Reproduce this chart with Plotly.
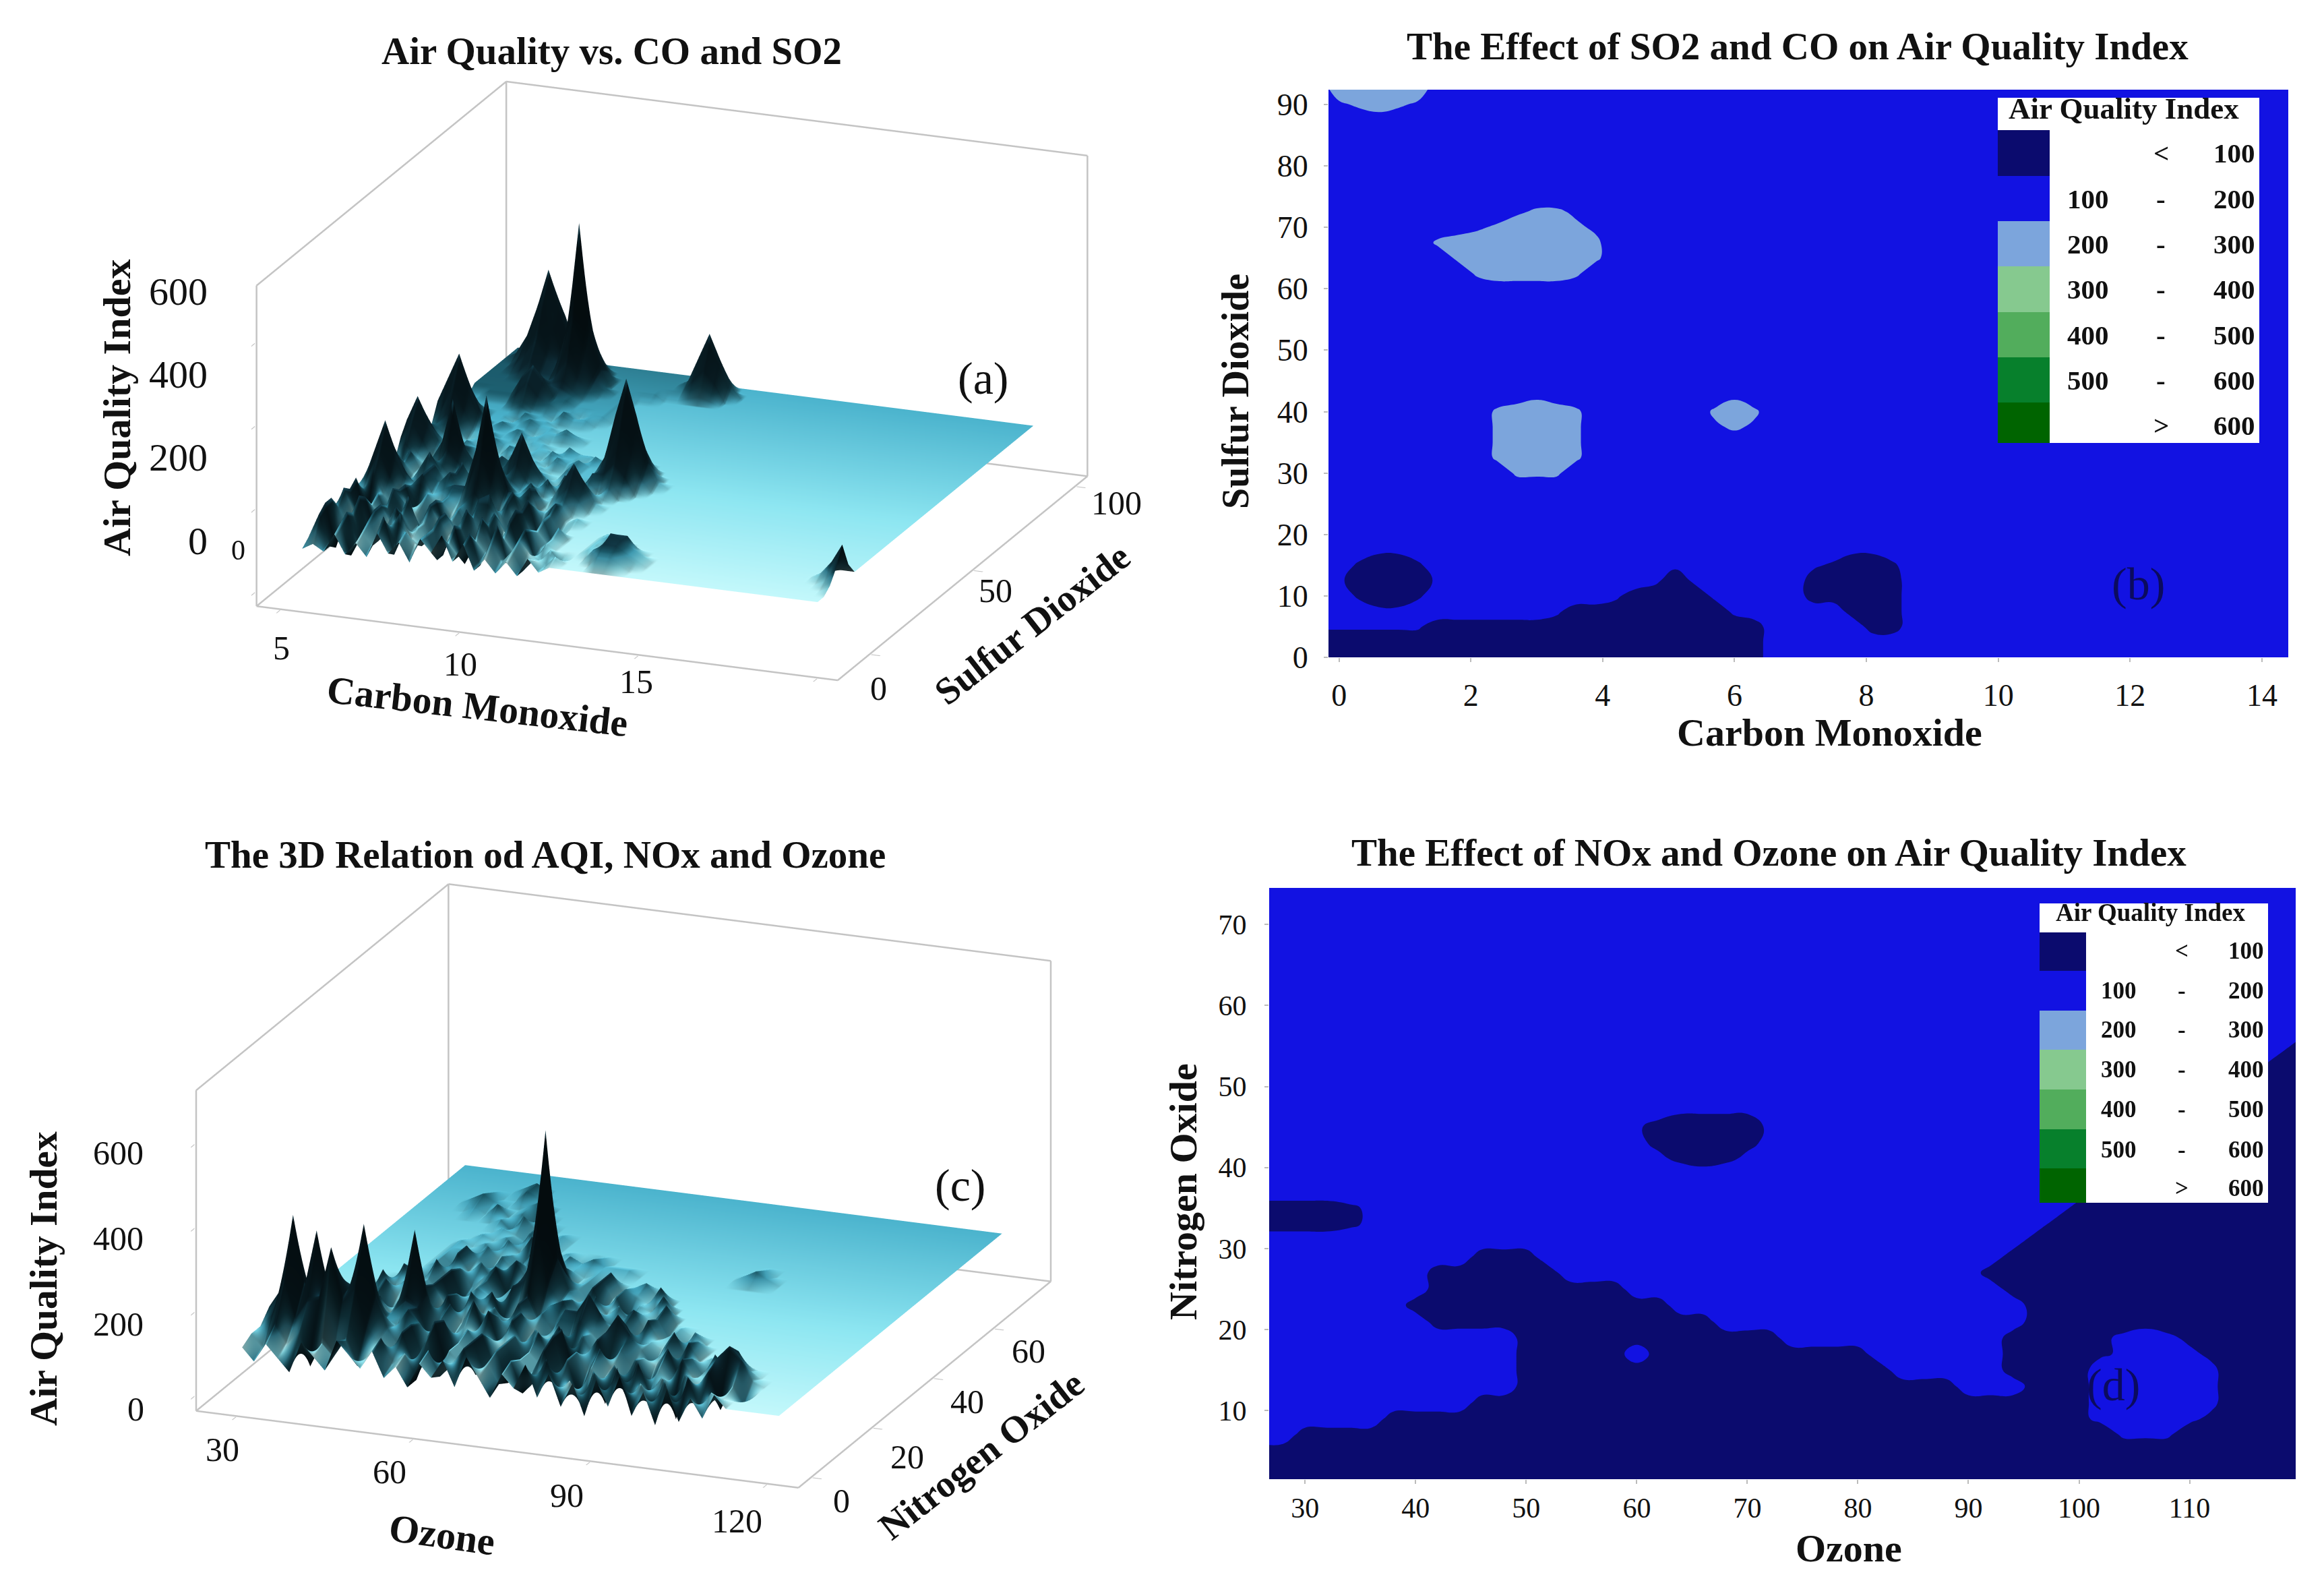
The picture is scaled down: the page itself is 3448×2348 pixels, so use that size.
import plotly.graph_objects as go

W, H = 3448, 2348
SERIF = "Liberation Serif"

# ---------- data: panel (a) AQI surface over CO / SO2 (base-36 char = AQI / 15) ----------
A_X = [4.7 + 0.3 * i for i in range(34)] + [15.5, 16.5, 17.5, 18.2, 18.5, 18.8, 19.1]
A_Y = [3 * j for j in range(36)]
A_ROWS = [
    "3436353746375847353536455555",
    "4837264937573648374635465557765555" + "5555555",
    "5928374695473826493754645578876555" + "5555556",
    "3947285936485739464836555669876555" + "5555568",
    "6749385746385947283746555658865555" + "555568b",
    "4958273948563748593647555677555555" + "5555567",
    "5836497528" + "3749a63847" + "355556",
    "49273856375" + "797" + "48593" + "745555",
    "66964837576" + "afa" + "69476856" + "55",
    "68c8" + "579678" + "8ene8" + "7956755",
    "6bgb8" + "697967" + "afa" + "7685" + "797",
    "68c8" + "4796868" + "797" + "685" + "69c96",
    "669" + "47a759659" + "7a7" + "685" + "797",
    "547576a8657" + "7aea7" + "586" + "75" + "7",
    "64857" + "aha" + "7686" + "7a7" + "65758" + "8a8",
    "58654" + "7a7" + "65877665766" + "7bgb7",
    "8b8" + "576857657665576" + "69gmg96",
    "aea7" + "657665766576766" + "7bgb7",
    "8b8" + "65766576657665766" + "8a8",
    "686" + "566576656657665665" + "7",
    "6797" + "567665665",
    "69d96" + "6667665",
    "9dhc86" + "76656676",
    "69d96" + "6667665",
    "6797" + "665766",
    "666666" + "7" + "665766",
    "66666" + "8a8" + "766566",
    "6677" + "7aca7" + "76666",
    "77777" + "8a8" + "8" + "76666",
    "7777777" + "9c9" + "7666",
    "77" + "78a88" + "cjc8" + "766",
    "77" + "8ada" + "9gwg96" + "6666",
    "77" + "9eie" + "9cjc8" + "6666666" + "8a8",
    "78bgmhc9c9" + "6666666" + "7bfb7",
    "77" + "9eie9" + "7" + "8" + "666666666" + "8a8",
    "77" + "8ada8" + "766" + "666666666" + "8",
]
A_PLANE = "5"
A_X_TICKS = [5, 10, 15, 20]
A_Y_TICKS = [0, 50, 100]
Z_TICKS = [0, 200, 400, 600]

# ---------- data: panel (c) AQI surface over Ozone / NOx ----------
C_X = [28 + 2 * i for i in range(43)] + [115, 119]
C_Y = [1.5 + 3 * j for j in range(24)] + [75]
C_ROWS = [
    "64753864975846375849637594837284937283748",
    "75968375846957384695748359462839473829476",
    "79f9cdldf9" + "7594837594" + "8375948275" + "8394728693" + "746",
    "9codmcfeod" + "8594a37594" + "8375a48596" + "4837596" + "7aca7",
    "78f9d899f8" + "7a85948576" + "8495a36948" + "576948596" + "a7",
    "7968796868" + "a948576a49" + "5869485" + "9c9" + "7485967",
    "687968596" + "aka" + "596a48596485" + "9" + "758" + "9" + "576958",
    "6785968478" + "a594a68596859" + "9c9" + "68596758",
    "6675859674" + "96857946" + "9" + "58967" + "8" + "5796857",
    "66665968759468759" + "aja" + "785968576966",
    "6666659675946857" + "8dxd8" + "695847696",
    "66666675968579468" + "9g9" + "7596" + "8" + "7696",
    "666666675968579675" + "9" + "67596786",
    "666666675975867586" + "7" + "676",
    "666666677586759768" + "787" + "776",
    "6666666767586976" + "7657" + "6" * 11 + "787",
    "6666666676758676" + "6" * 16 + "7",
    "66666666676586766",
    "66666666758676",
    "6666676867576",
    "6666787" + "66" + "78" + "66",
    "666667668766",
    "6666666786",
    "",
    "",
]
C_PLANE = "6"
C_X_TICKS = [30, 60, 90, 120]
C_Y_TICKS = [0, 20, 40, 60]

# ---------- data: panel (b) AQI table, CO (x) / SO2 (y) ----------
B_X = [-0.3 + 0.3 * i for i in range(51)]
B_Y = [2.5 * j for j in range(38)]
B_ROWS = [
    "1" * 23,
    "1" * 23,
    "mmmmmm" + "1" * 17 + "2" * 5 + "11",
    "222qq" + "2" * 7 + "q" + "1" * 8 + "q" + "2" * 5 + "111",
    "22" + "k11k" + "2" * 9 + "q" + "1111" + "q" + "2" * 4 + "11111",
    "2q" + "1111" + "q" + "2" * 10 + "q" + "1" + "q" + "2" * 5 + "11111",
    "22" + "k11k" + "2" * 12 + "q" + "2" * 6 + "q" + "k11k",
    "222qq" + "2" * 22 + "qq",
    "", "", "", "",
    "2" * 10 + "ppp",
    "2" * 9 + "pp3pp",
    "2" * 9 + "p333p",
    "2" * 9 + "p333p" + "2" * 6 + "npn",
    "2" * 9 + "pp3pp" + "2" * 6 + "p3p",
    "2" * 10 + "nnn" + "2" * 8 + "n",
    "", "", "", "", "", "", "",
    "2" * 8 + "p3333p",
    "2" * 7 + "p333333p",
    "2" * 6 + "p3333333p",
    "2" * 8 + "np333pn",
    "2" * 10 + "nppn",
    "", "", "", "", "", "",
    "2n" + "p3pn",
    "2" + "33333",
]
B_X_TICKS = [0, 2, 4, 6, 8, 10, 12, 14]
B_Y_TICKS = [0, 10, 20, 30, 40, 50, 60, 70, 80, 90]

# ---------- data: panel (d) AQI table, Ozone (x) / NOx (y) ----------
D_X = [26 + 2 * i for i in range(48)]
D_Y = [1 + 2 * j for j in range(38)]
D_ROWS = [
    "1" * 48,
    "1" * 48,
    "1" * 48,
    "22" + "1" * 37 + "mmm" + "1" * 6,
    "2" * 6 + "1" * 31 + "k" + "q222q" + "k" + "1" * 4,
    "2" * 10 + "1" * 28 + "22222q" + "1" * 4,
    "2" * 12 + "1" * 20 + "222" + "111" + "22222q" + "1" * 4,
    "2" * 12 + "1" * 17 + "2" * 5 + "1" * 4 + "22222q" + "1" * 4,
    "2" * 12 + "1" * 5 + "2" + "1" * 10 + "2" * 6 + "1" * 4 + "k" + "q22q" + "k" + "1" * 4,
    "2" * 12 + "1" * 12 + "2" * 10 + "1" * 4 + "k" + "q2q" + "k" + "1" * 5,
    "2" * 8 + "1" * 13 + "2" * 14 + "1" * 13,
    "2" * 7 + "1" * 12 + "2" * 16 + "1" * 13,
    "2" * 8 + "1" * 9 + "2" * 17 + "1" * 14,
    "2" * 8 + "1" * 6 + "2" * 19 + "1" * 15,
    "2" * 10 + "1" * 3 + "2" * 21 + "1" * 14,
    "2" * 35 + "1" * 13,
    "1" * 4 + "k" + "q" + "2" * 30 + "1" * 12,
    "1" * 4 + "k" + "q" + "2" * 31 + "1" * 11,
    "2" * 38 + "1" * 10,
    "2" * 39 + "1" * 9,
    "2" * 18 + "qk1kq" + "2" * 17 + "1" * 8,
    "2" * 17 + "q" + "k111k" + "q" + "2" * 17 + "1" * 7,
    "2" * 17 + "q" + "11111" + "q" + "2" * 18 + "1" * 6,
    "2" * 19 + "mmmm" + "2" * 20 + "1" * 5,
    "2" * 44 + "1111",
    "2" * 45 + "111",
    "2" * 46 + "11",
    "2" * 47 + "1",
    "", "", "", "", "", "", "", "", "", "",
]
D_X_TICKS = [30, 40, 50, 60, 70, 80, 90, 100, 110]
D_Y_TICKS = [10, 20, 30, 40, 50, 60, 70]

LEGEND_FROM = ["", "100", "200", "300", "400", "500", ""]
LEGEND_SIGN = ["<", "-", "-", "-", "-", "-", ">"]
LEGEND_TO = ["100", "200", "300", "400", "500", "600", "600"]
BAND_COLORS = ["#0b0b6e", "#1212e2", "#7ca5dc", "#86c98f", "#52ad5c", "#07802c", "#006400"]

# plane shading by y (first part of the scale), spikes run into the dark end
CYAN_SCALE = [[0, "#c6fcff"], [0.27, "#8fe9f5"], [0.6, "#4cb6d0"], [0.8, "#1f6678"], [1, "#123a48"]]
EDGE_GREY = "#c4c4c4"
ALPHA = "0123456789abcdefghijklmnopqrstuvwxyz"


def surf_table(rows, n, pad):
    return [[ALPHA.index(c) * 15 for c in r.ljust(n, pad)[:n]] for r in rows]


def shade_table(z, yv, plane):
    base = ALPHA.index(plane) * 15
    out = []
    for row, y in zip(z, yv):
        flat = 0.6 * (y - yv[0]) / (yv[-1] - yv[0])
        out.append([flat + (1 - flat) * min(1, abs(v - base) / 45) for v in row])
    return out


def class_table(rows, n):
    code = {"1": 60, "k": 85, "m": 110, "q": 115, "2": 150, "n": 185, "p": 215, "3": 250}
    return [[code[c] for c in r.ljust(n, "2")[:n]] for r in rows]


def fx(p):
    return p / W


def fy(p):
    return 1 - p / H


fig = go.Figure()
ann = []
shp = []


def text(x, y, s, size, bold=False, angle=0, color="#111111"):
    ann.append(dict(xref="paper", yref="paper", x=fx(x), y=fy(y), text=f"<b>{s}</b>" if bold else s,
                    showarrow=False, textangle=angle, xanchor="center", yanchor="middle",
                    font=dict(family=SERIF, size=size, color=color)))


def box_edges(xr, yr, zr):
    def inset(r):
        m = (r[1] - r[0]) * 0.002
        return r[0] + m, r[1] - m
    a, b = inset(xr)
    c, d = inset(yr)
    e, f = inset(zr)
    segs = [((a, d, e), (a, d, f)), ((b, d, e), (b, d, f)), ((a, d, f), (b, d, f)), ((a, d, e), (b, d, e)),
            ((a, c, f), (a, d, f)), ((a, c, e), (a, c, f)), ((a, c, e), (a, d, e)),
            ((a, c, e), (b, c, e)), ((b, c, e), (b, d, e))]
    xs, ys, zs = [], [], []
    for p, q in segs:
        xs += [p[0], q[0], None]
        ys += [p[1], q[1], None]
        zs += [p[2], q[2], None]
    return xs, ys, zs


def add_surface(name, xv, yv, rows, pad, xr, yr, zr, xt, yt):
    z = surf_table(rows, len(xv), pad)
    fig.add_trace(go.Surface(x=xv, y=yv, z=z, surfacecolor=shade_table(z, yv, pad), colorscale=CYAN_SCALE,
                             showscale=False, cmin=0, cmax=1, scene=name, hoverinfo="skip",
                             lighting=dict(ambient=0.2, diffuse=0.8, specular=0.05, roughness=0.9, fresnel=0.0),
                             lightposition=dict(x=10, y=10000, z=0)))
    ex, ey, ez = box_edges(xr, yr, zr)
    fig.add_trace(go.Scatter3d(x=ex, y=ey, z=ez, mode="lines", scene=name, hoverinfo="skip", showlegend=False,
                               line=dict(color=EDGE_GREY, width=5)))


def scene_cfg(cx, cy, xr, yr, zr, xt, yt, asp, eye):
    hw, hh = 680, 520
    ax = dict(showgrid=False, zeroline=False, showbackground=False, showspikes=False, showline=False,
              showticklabels=False, ticks="outside", ticklen=14, tickcolor=EDGE_GREY, tickwidth=3, title="")
    return dict(domain=dict(x=[fx(cx - hw), fx(cx + hw)], y=[fy(cy + hh), fy(cy - hh)]),
                xaxis=dict(ax, range=xr, tickvals=xt),
                yaxis=dict(ax, range=yr, tickvals=yt),
                zaxis=dict(ax, range=zr, tickvals=Z_TICKS),
                aspectmode="manual", aspectratio=dict(x=asp[0], y=asp[1], z=asp[2]),
                camera=dict(projection=dict(type="orthographic"), eye=dict(x=eye[0], y=eye[1], z=eye[2]),
                            center=dict(x=0, y=0, z=0), up=dict(x=0, y=0, z=1)))


A_R = ([4.3, 20.6], [-16, 106], [-35, 740])
C_R = ([23, 125.5], [-4.5, 79], [-37, 730])
add_surface("scene", A_X, A_Y, A_ROWS, A_PLANE, *A_R, A_X_TICKS, A_Y_TICKS)
add_surface("scene2", C_X, C_Y, C_ROWS, C_PLANE, *C_R, C_X_TICKS, C_Y_TICKS)

SCALE = 2.0
scene_a = scene_cfg(997, 565, *A_R, A_X_TICKS, A_Y_TICKS, (1.79, 1.947, 0.97),
                    (0.348 * SCALE, -0.881 * SCALE, 0.323 * SCALE))
scene_c = scene_cfg(925, 1759, *C_R, C_X_TICKS, C_Y_TICKS, (1.855, 1.968, 0.97),
                    (0.348 * SCALE, -0.881 * SCALE, 0.323 * SCALE))

STEPS = []
for k, col in enumerate(BAND_COLORS):
    STEPS += [[k / 7, col], [(k + 1) / 7, col]]


def add_contour(xv, yv, rows, xa, ya):
    fig.add_trace(go.Contour(x=xv, y=yv, z=class_table(rows, len(xv)), xaxis=xa, yaxis=ya, zmin=0, zmax=700,
                             colorscale=STEPS, showscale=False, hoverinfo="skip",
                             contours=dict(start=0, end=700, size=100, coloring="fill", showlines=False),
                             line=dict(width=0, smoothing=1.3)))


add_contour(B_X, B_Y, B_ROWS, "x", "y")
add_contour(D_X, D_Y, D_ROWS, "x2", "y2")


def ax2d(dom, rng, ticks, size, standoff):
    return dict(domain=dom, range=rng, tickvals=ticks, ticktext=[str(t) for t in ticks], ticks="outside", ticklen=6,
                tickcolor="#bbbbbb", tickwidth=2, showgrid=False, zeroline=False, showline=False, automargin=False,
                tickfont=dict(family=SERIF, size=size, color="#111111"), ticklabelstandoff=standoff)


def legend(x0, x1, sw, top, ys, rows, title_x, title_y, cols, fs, title_fs):
    shp.append(dict(type="rect", xref="paper", yref="paper", x0=fx(x0), x1=fx(x1), y0=fy(ys[-1]), y1=fy(top),
                    fillcolor="white", line=dict(width=0), layer="above"))
    for k, col in enumerate(BAND_COLORS):
        shp.append(dict(type="rect", xref="paper", yref="paper", x0=fx(x0), x1=fx(sw), y0=fy(ys[k + 1]), y1=fy(ys[k]),
                        fillcolor=col, line=dict(width=0), layer="above"))
        text(cols[0], rows[k], LEGEND_FROM[k], fs, True)
        text(cols[1], rows[k], LEGEND_SIGN[k], fs, True)
        text(cols[2], rows[k], LEGEND_TO[k], fs, True)
    text(title_x, title_y, "Air Quality Index", title_fs, True)


legend(2964, 3352, 3041, 145, [193, 261, 328, 395, 463, 530, 597, 657], [227, 295, 362, 429, 497, 564, 631],
       3151, 161, [3098, 3206, 3315], 41, 45)
legend(3026, 3365, 3095, 1340, [1383, 1440, 1499, 1557, 1616, 1675, 1733, 1784],
       [1410, 1469, 1527, 1586, 1645, 1705, 1762], 3190, 1354, [3143, 3237, 3332], 35, 37)

# panel titles
text(907, 75, "Air Quality vs. CO and SO2", 57, True)
text(2667, 68, "The Effect of SO2 and CO on Air Quality Index", 57, True)
text(809, 1267, "The 3D Relation od AQI, NOx and Ozone", 57, True)
text(2624, 1265, "The Effect of NOx and Ozone on Air Quality Index", 57, True)
# 2D axis titles
text(2714, 1086, "Carbon Monoxide", 58, True)
text(1833, 580, "Sulfur Dioxide", 56, True, -90)
text(2743, 2296, "Ozone", 58, True)
text(1755, 1768, "Nitrogen Oxide", 58, True, -90)
# panel tags
text(1458, 561, "(a)", 68)
text(3172, 866, "(b)", 68, False, 0, "#0b0b5e")
text(1424, 1758, "(c)", 68)
text(3135, 2054, "(d)", 68, False, 0, "#0b0b5e")
# 3D panel (a) labels
text(174, 605, "Air Quality Index", 58, True, -90)
text(708, 1047, "Carbon Monoxide", 57.5, True, 6.5)
text(1531, 926, "Sulfur Dioxide", 56, True, -38)
for lab, (x, y) in zip(Z_TICKS[::-1], [(264, 432), (264, 555), (264, 679), (293, 802)]):
    text(x, y, str(lab), 58)
text(353, 816, "0", 42)
for lab, (x, y) in zip(A_X_TICKS[:3], [(417, 961), (683, 985), (944, 1011)]):
    text(x, y, str(lab), 50)
for lab, (x, y) in zip(A_Y_TICKS, [(1303, 1021), (1477, 876), (1656, 746)]):
    text(x, y, str(lab), 50)
# 3D panel (c) labels
text(64, 1897, "Air Quality Index", 57.5, True, -90)
text(656, 2276, "Ozone", 58, True, 8)
text(1456, 2158, "Nitrogen Oxide", 56, True, -38)
for lab, (x, y) in zip(Z_TICKS[::-1], [(175, 1710), (175, 1837), (175, 1964), (201, 2090)]):
    text(x, y, str(lab), 50)
for lab, (x, y) in zip(C_X_TICKS, [(330, 2150), (578, 2183), (841, 2218), (1093, 2256)]):
    text(x, y, str(lab), 50)
for lab, (x, y) in zip(C_Y_TICKS, [(1248, 2226), (1346, 2161), (1435, 2079), (1526, 2004)]):
    text(x, y, str(lab), 50)

fig.update_layout(
    width=W, height=H, margin=dict(l=0, r=0, t=0, b=0), paper_bgcolor="white", plot_bgcolor="white",
    showlegend=False, annotations=ann, shapes=shp, scene=scene_a, scene2=scene_c,
    xaxis=dict(ax2d([fx(1971), fx(3395)], [-0.16, 14.4], B_X_TICKS, 46, 10), anchor="y"),
    yaxis=dict(ax2d([fy(975), fy(133)], [0, 92.4], B_Y_TICKS, 46, 14), anchor="x"),
    xaxis2=dict(ax2d([fx(1883), fx(3406)], [26.75, 119.6], D_X_TICKS, 42, 0), anchor="y2"),
    yaxis2=dict(ax2d([fy(2194), fy(1317)], [1.54, 74.5], D_Y_TICKS, 42, 18), anchor="x2"),
)

fig.write_html("out.html", post_script="document.body.style.margin='0';document.body.style.overflow='hidden';",
               config=dict(displayModeBar=False))
